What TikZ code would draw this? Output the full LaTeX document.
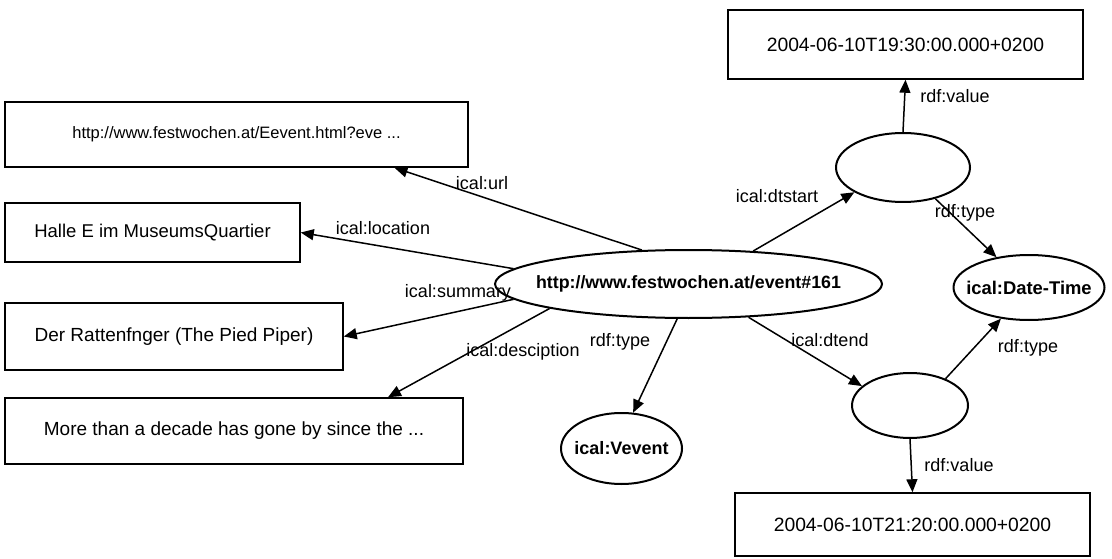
\documentclass[tikz,border=0pt]{standalone}
\usepackage{fontspec}
\setmainfont{Liberation Sans}
\usetikzlibrary{shapes.geometric,arrows.meta}

\newcommand{\restext}[1]{\makebox[0pt][c]{#1}}

\begin{document}
\begin{tikzpicture}[x=1pt,y=-1pt,
  lit/.style={draw, line width=1.5pt, rectangle, inner sep=0pt,
    font=\fontsize{19}{22}\selectfont},
  res/.style={draw, line width=2pt, ellipse, inner sep=0pt,
    font=\fontsize{17.8}{21}\selectfont\bfseries},
  lbl/.style={inner sep=1pt, font=\fontsize{18}{21}\selectfont},
  arr/.style={line width=1.5pt, -{Triangle[length=13pt,width=11pt]}}]

\useasboundingbox (0,0) rectangle (1112,559);

% literal values
\node[lit, minimum width=463pt, minimum height=65pt,
  font=\fontsize{16.5}{20}\selectfont] (url) at (236.5,134.5)
  {http://www.festwochen.at/Eevent.html?eve ...};
\node[lit, minimum width=295pt, minimum height=59pt,
  font=\fontsize{18.5}{22}\selectfont] (loc) at (152.5,232.5)
  {Halle E im MuseumsQuartier};
\node[lit, minimum width=338pt, minimum height=67pt] (sum) at (174,336.5)
  {Der Rattenfnger (The Pied Piper)};
\node[lit, minimum width=458pt, minimum height=66pt] (desc) at (234,431)
  {More than a decade has gone by since the ...};
\node[lit, minimum width=355pt, minimum height=69pt,
  font=\fontsize{19.3}{23}\selectfont] (tb) at (905.5,44.5)
  {2004-06-10T19:30:00.000+0200\hspace{12pt}};
\node[lit, minimum width=355pt, minimum height=63pt,
  font=\fontsize{19.3}{23}\selectfont] (bb) at (912.5,524.5)
  {2004-06-10T21:20:00.000+0200\hspace{12pt}};

% resources
\node[res, minimum width=387pt, minimum height=68pt] (ev) at (688.5,284)
  {\restext{http://www.festwochen.at/event\#161}};
\node[res, minimum width=121pt, minimum height=71pt,
  font=\fontsize{18}{22}\selectfont\bfseries] (vev) at (621.5,448.5)
  {\restext{ical:Vevent}};
\node[res, minimum width=134pt, minimum height=69pt] (ds) at (903,167.5) {};
\node[res, minimum width=116pt, minimum height=65pt] (de) at (910,405.5) {};
\node[res, minimum width=151pt, minimum height=65pt,
  font=\fontsize{18.4}{22}\selectfont\bfseries] (dt) at (1029,287.5)
  {\restext{ical:Date-Time}};

% properties
\draw[arr] (ev.144) -- ([xshift=158pt]url.south);
\draw[arr] (ev.175) -- (loc.east);
\draw[arr] (ev.185) -- (sum.east);
\draw[arr] (ev.190) -- ([xshift=154pt]desc.north);
\draw[arr] (ev.252) -- (vev.72);
\draw[arr] (ev.27) -- (ds.207);
\draw[arr] (ev.331) -- (de.158);
\draw[arr] (ds.north) -- (tb.south);
\draw[arr] (ds.-44) -- (dt.137);
\draw[arr] (de.37) -- (dt.228);
\draw[arr] (de.south) -- (bb.north);

% property labels
\node[lbl] (lurl) at (482,183) {ical:url};
\node[lbl] (lloc) at (383,228) {ical:location};
\node[lbl] (lsum) at (458,293) {ical:summary};
\node[lbl] (ldesc) at (523,352) {ical:desciption};
\node[lbl] (ltype) at (620,342) {rdf:type};
\node[lbl] (lds) at (777,196) {ical:dtstart};
\node[lbl] (lde) at (830,340) {ical:dtend};
\node[lbl] (ltv) at (955,96) {rdf:value};
\node[lbl] (ldst) at (965,213) {rdf:type};
\node[lbl] (ldet) at (1028,348) {rdf:type};
\node[lbl] (lbv) at (959,465) {rdf:value};
\end{tikzpicture}
\end{document}
